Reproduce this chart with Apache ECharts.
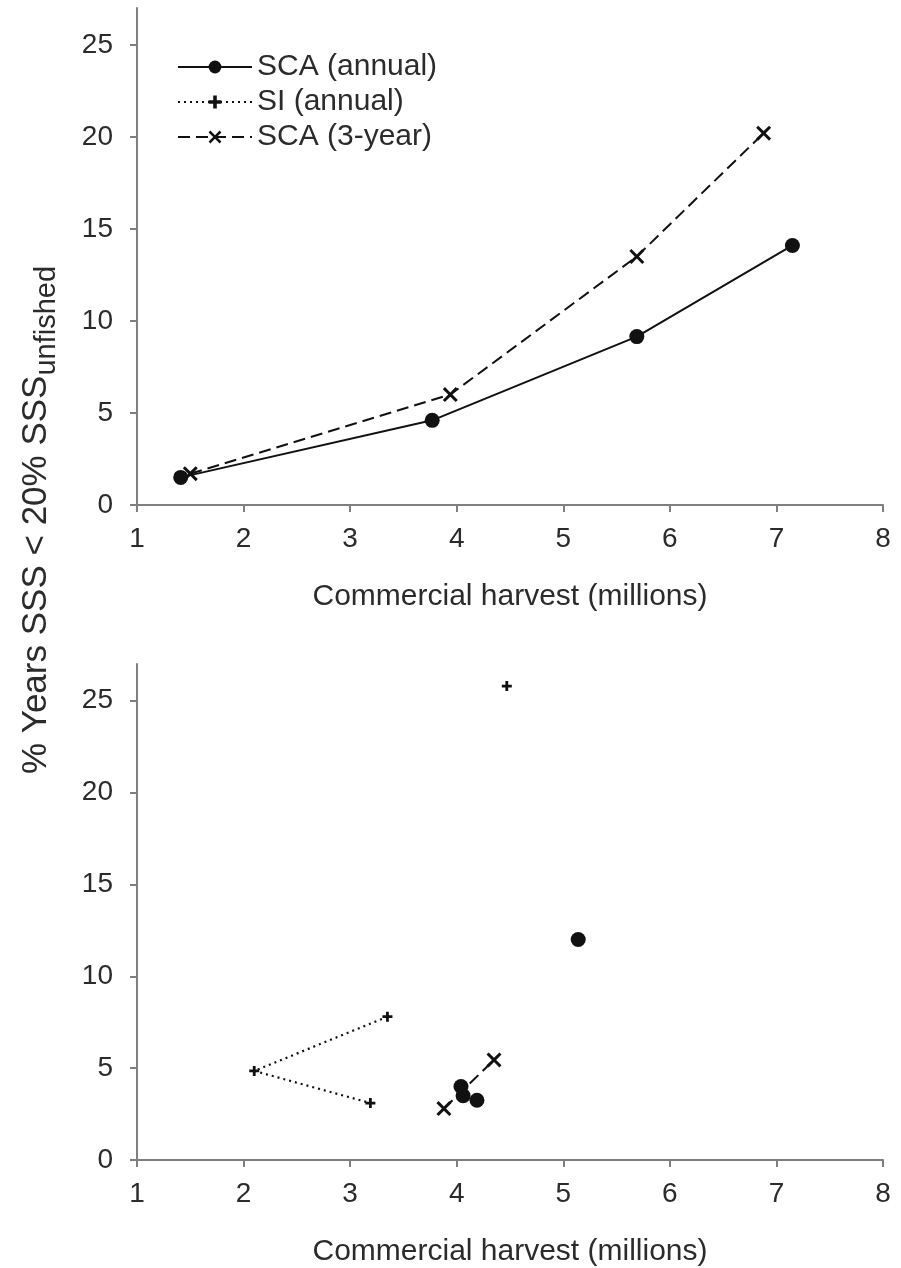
<!DOCTYPE html>
<html>
<head>
<meta charset="utf-8">
<script src="https://cdn.jsdelivr.net/npm/echarts@6/dist/echarts.min.js"></script>
<style>
  html, body { margin: 0; padding: 0; background: #ffffff; }
  #chart { width: 901px; height: 1268px; }
</style>
</head>
<body>
<div id="chart"></div>
<script>
// Upper panel: annual vs 3-year SCA scenarios
const topScaAnnual = [[1.41, 1.5], [3.77, 4.6], [5.69, 9.15], [7.15, 14.1]];
const topSca3Year  = [[1.50, 1.7], [3.94, 6.0], [5.69, 13.5], [6.88, 20.2]];
const topSiAnnual  = [];

// Lower panel
const botScaAnnual = [[4.04, 4.0], [4.06, 3.5], [4.19, 3.25], [5.14, 12.0]];
const botSca3Year  = [[3.88, 2.8], [4.35, 5.45]];
const botSiAnnualLine  = [[3.35, 7.8], [2.10, 4.85], [3.19, 3.1]];
const botSiAnnualPoint = [[4.47, 25.8]];

const xTicks = [1, 2, 3, 4, 5, 6, 7, 8];
const yTicks = [0, 5, 10, 15, 20, 25];

const xTitle = 'Commercial harvest (millions)';
const yTitleMain = '% Years SSS < 20% SSS';
const yTitleSub = 'unfished';

const FONT = 'Liberation Sans, Arial, sans-serif';
const TEXT = '#2b2b2b';
const AXIS = '#7f7f7f';
const INK = '#111111';

const SYM_X = 'path://M0,1.4L1.4,0L5,3.6L8.6,0L10,1.4L6.4,5L10,8.6L8.6,10L5,6.4L1.4,10L0,8.6L3.6,5Z';
const SYM_PLUS = 'path://M3.6,0H6.4V3.6H10V6.4H6.4V10H3.6V6.4H0V3.6H3.6Z';

function xAxisFor(gridIndex) {
  return {
    type: 'value', gridIndex: gridIndex,
    min: xTicks[0], max: xTicks[xTicks.length - 1], interval: 1,
    name: xTitle, nameLocation: 'middle', nameGap: 77,
    nameTextStyle: { fontFamily: FONT, fontSize: 30, color: TEXT },
    axisLine: { show: true, onZero: false, lineStyle: { color: AXIS, width: 2 } },
    axisTick: { show: true, inside: false, length: 7, lineStyle: { color: AXIS, width: 2 },
                customValues: xTicks },
    axisLabel: { fontFamily: FONT, fontSize: 28, color: TEXT, margin: 20,
                 customValues: xTicks },
    splitLine: { show: false }
  };
}
function yAxisFor(gridIndex) {
  return {
    type: 'value', gridIndex: gridIndex,
    min: 0, max: 27,
    axisLine: { show: true, onZero: false, lineStyle: { color: AXIS, width: 2 } },
    axisTick: { show: true, inside: false, length: 7, lineStyle: { color: AXIS, width: 2 },
                customValues: yTicks },
    axisLabel: { fontFamily: FONT, fontSize: 28, color: TEXT, margin: 24,
                 customValues: yTicks },
    splitLine: { show: false }
  };
}

const scaAnnualStyle = {
  symbol: 'circle', symbolSize: 15,
  itemStyle: { color: INK, opacity: 1 },
  lineStyle: { color: INK, width: 2, type: 'solid' }
};
const siStyle = {
  symbol: SYM_PLUS, symbolSize: 10,
  itemStyle: { color: INK, opacity: 1 },
  lineStyle: { color: INK, width: 2.2, type: [2, 4] }
};
const sca3Style = {
  symbol: SYM_X, symbolSize: 15,
  itemStyle: { color: INK, opacity: 1 },
  lineStyle: { color: INK, width: 2, type: [12, 6] }
};

const option = {
  backgroundColor: '#ffffff',
  animation: false,
  grid: [
    { left: 137, right: 18, top: 8, height: 497 },
    { left: 137, right: 18, top: 664, height: 499 }
  ],
  legend: {
    left: 172, top: 47, orient: 'vertical',
    itemWidth: 74, itemHeight: 16, itemGap: 5,
    textStyle: { fontFamily: FONT, fontSize: 30, color: TEXT, lineHeight: 30 },
    data: ['SCA (annual)', 'SI (annual)', 'SCA (3-year)']
  },
  xAxis: [xAxisFor(0), xAxisFor(1)],
  yAxis: [yAxisFor(0), yAxisFor(1)],
  series: [
    Object.assign({ type: 'line', name: 'SCA (annual)', xAxisIndex: 0, yAxisIndex: 0,
                    data: topScaAnnual }, scaAnnualStyle),
    Object.assign({ type: 'line', name: 'SI (annual)', xAxisIndex: 0, yAxisIndex: 0,
                    data: topSiAnnual }, siStyle),
    Object.assign({ type: 'line', name: 'SCA (3-year)', xAxisIndex: 0, yAxisIndex: 0,
                    data: topSca3Year }, sca3Style),

    Object.assign({ type: 'scatter', name: 'SCA (annual)', xAxisIndex: 1, yAxisIndex: 1,
                    data: botScaAnnual }, scaAnnualStyle),
    Object.assign({ type: 'line', name: 'SI (annual)', xAxisIndex: 1, yAxisIndex: 1,
                    data: botSiAnnualLine }, siStyle),
    Object.assign({ type: 'scatter', name: 'SI (annual)', xAxisIndex: 1, yAxisIndex: 1,
                    data: botSiAnnualPoint }, siStyle),
    Object.assign({ type: 'line', name: 'SCA (3-year)', xAxisIndex: 1, yAxisIndex: 1,
                    data: botSca3Year }, sca3Style)
  ],
  graphic: [{
    type: 'text',
    x: 36, y: 520,
    rotation: Math.PI / 2,
    style: {
      text: '{m|' + yTitleMain + '}{s|' + yTitleSub + '}',
      align: 'center', verticalAlign: 'middle',
      fill: TEXT,
      rich: {
        m: { fontFamily: FONT, fontSize: 35, fill: TEXT, lineHeight: 50, verticalAlign: 'middle' },
        s: { fontFamily: FONT, fontSize: 29, fill: TEXT, lineHeight: 50, verticalAlign: 'bottom' }
      }
    }
  }]
};

const chart = echarts.init(document.getElementById('chart'), null, { renderer: 'canvas' });
chart.setOption(option);
</script>
</body>
</html>
